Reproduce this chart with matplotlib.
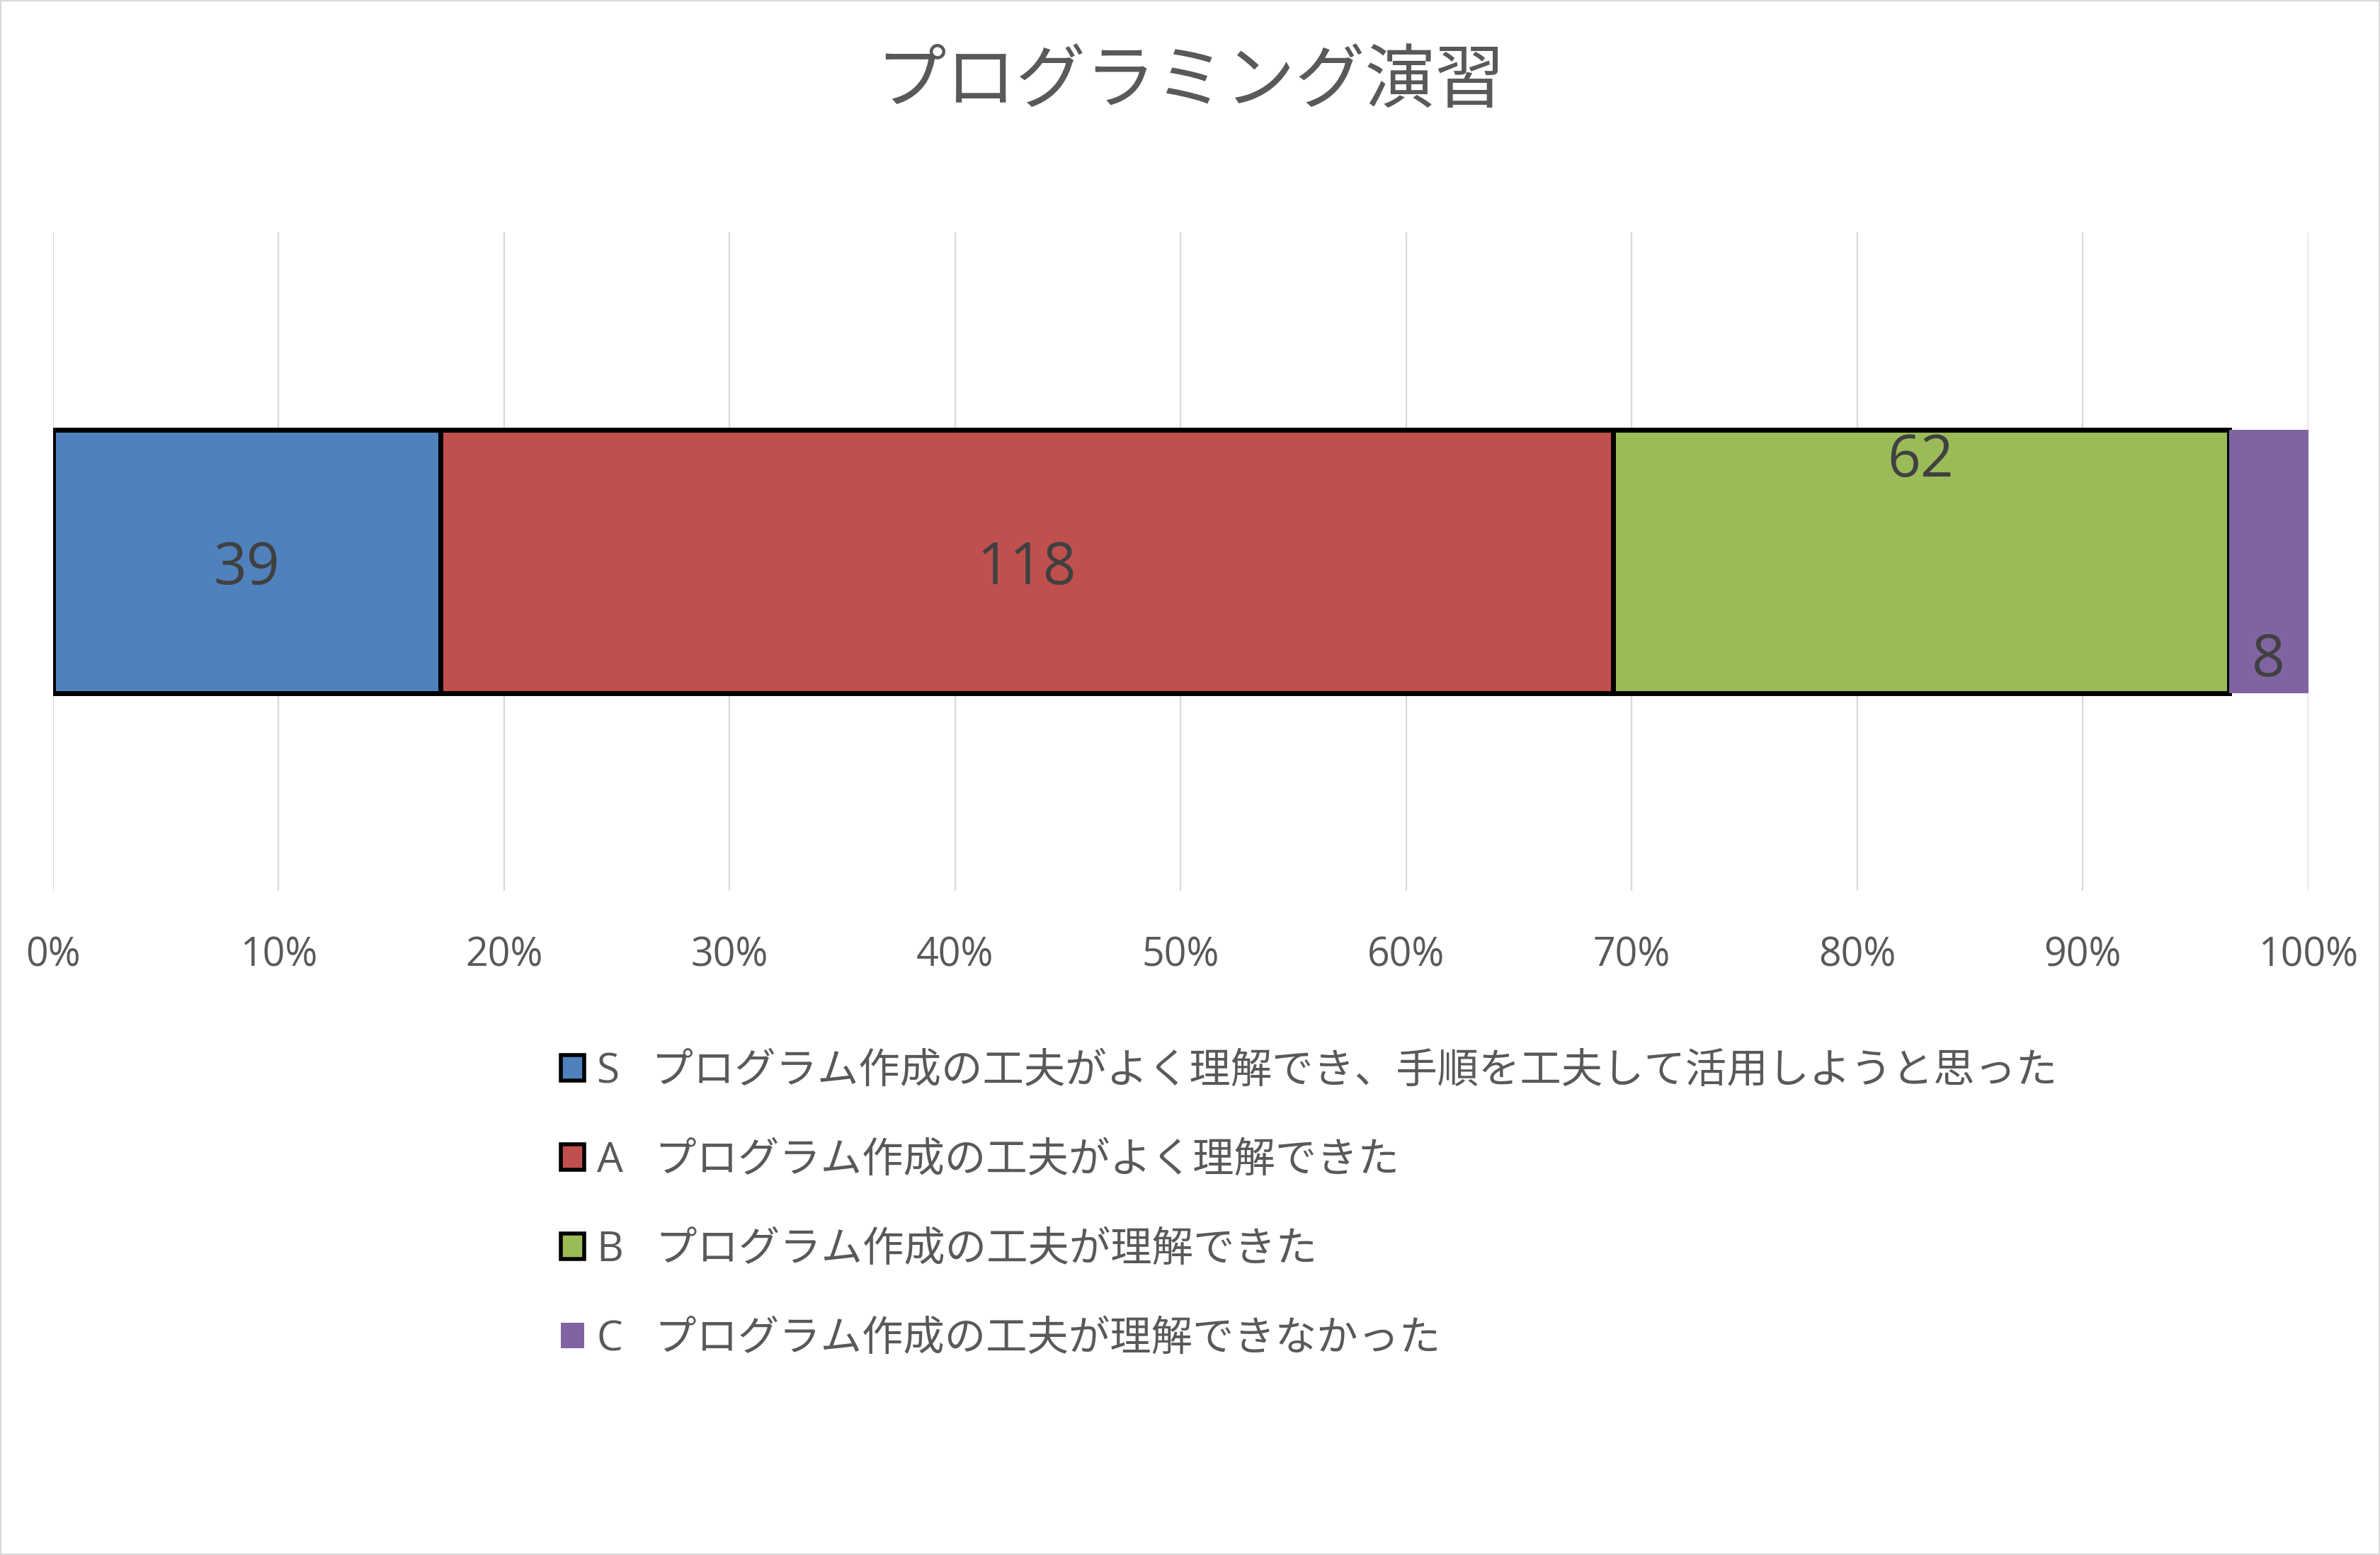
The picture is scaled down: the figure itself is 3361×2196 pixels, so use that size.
import matplotlib.pyplot as plt
from matplotlib.patches import Patch, Rectangle

plt.rcParams['font.family'] = ['Open Sans', 'Noto Sans CJK JP', 'DejaVu Sans']

# data
grades = ['S', 'A', 'B', 'C']
descriptions = ['プログラム作成の工夫がよく理解でき、手順を工夫して活用しようと思った',
                'プログラム作成の工夫がよく理解できた',
                'プログラム作成の工夫が理解できた',
                'プログラム作成の工夫が理解できなかった']
counts = [39, 118, 62, 8]
colors = ['#4F81BD', '#C0504D', '#9BBB59', '#8064A2']
edges = ['black', 'black', 'black', 'none']
ticks = [0, 10, 20, 30, 40, 50, 60, 70, 80, 90, 100]

total = float(sum(counts))
shares = [c / total * 100 for c in counts]

fig = plt.figure(figsize=(33.61, 21.96), dpi=100)
ax = fig.add_axes([0.0223, 0.4271, 0.9476, 0.4235])

left = 0
bars = []
for share, col, ec in zip(shares, colors, edges):
    ax.barh(0, share, left=left, height=0.4, color=col,
            edgecolor=ec, linewidth=5 if ec != 'none' else 0, zorder=3)
    bars.append((left, share))
    left += share

#labels, two of them sit at the top/bottom of the bar like in the original
offsets = [(0.0, -11), (0.0, -11), (0.2, -45), (-0.2, 45)]
for (l, w), n, (yy, off) in zip(bars, counts, offsets):
    ax.annotate(str(n), xy=(l + w / 2, yy), xytext=(0, off), textcoords='offset pixels',
                ha='center', va='center', fontsize=59, color='#404040', zorder=4)

ax.set_xlim(0, 100)
ax.set_ylim(-0.5, 0.5)
ax.set_xticks(ticks)
ax.set_xticklabels(['%d%%' % t for t in ticks])
ax.set_yticks([])
ax.tick_params(axis='x', length=0, pad=46, labelsize=40, labelcolor='#595959')
ax.grid(axis='x', color='#D9D9D9', linewidth=1.6, zorder=0)
for s in ax.spines.values():
    s.set_visible(False)

fig.text(0.5, 0.946, 'プログラミング演習', ha='center', va='center',
         fontsize=71, color='#595959')

handles = [Patch(facecolor=c, edgecolor=e, linewidth=4 if e != 'none' else 0) for c, e in zip(colors, edges)]
labels = ['%s   %s' % (g, d) for g, d in zip(grades, descriptions)]
fig.legend(handles, labels, loc='upper left', bbox_to_anchor=(0.2357, 0.324),
           frameon=False, fontsize=42, labelcolor='#595959',
           handlelength=0.57, handleheight=0.57, handletextpad=0.3,
           labelspacing=1.155, borderaxespad=0, borderpad=0)

fig.patches.append(Rectangle((0, 0), 1, 1, transform=fig.transFigure,
                             fill=False, edgecolor='#D9D9D9', linewidth=3))

plt.savefig('out.png')
